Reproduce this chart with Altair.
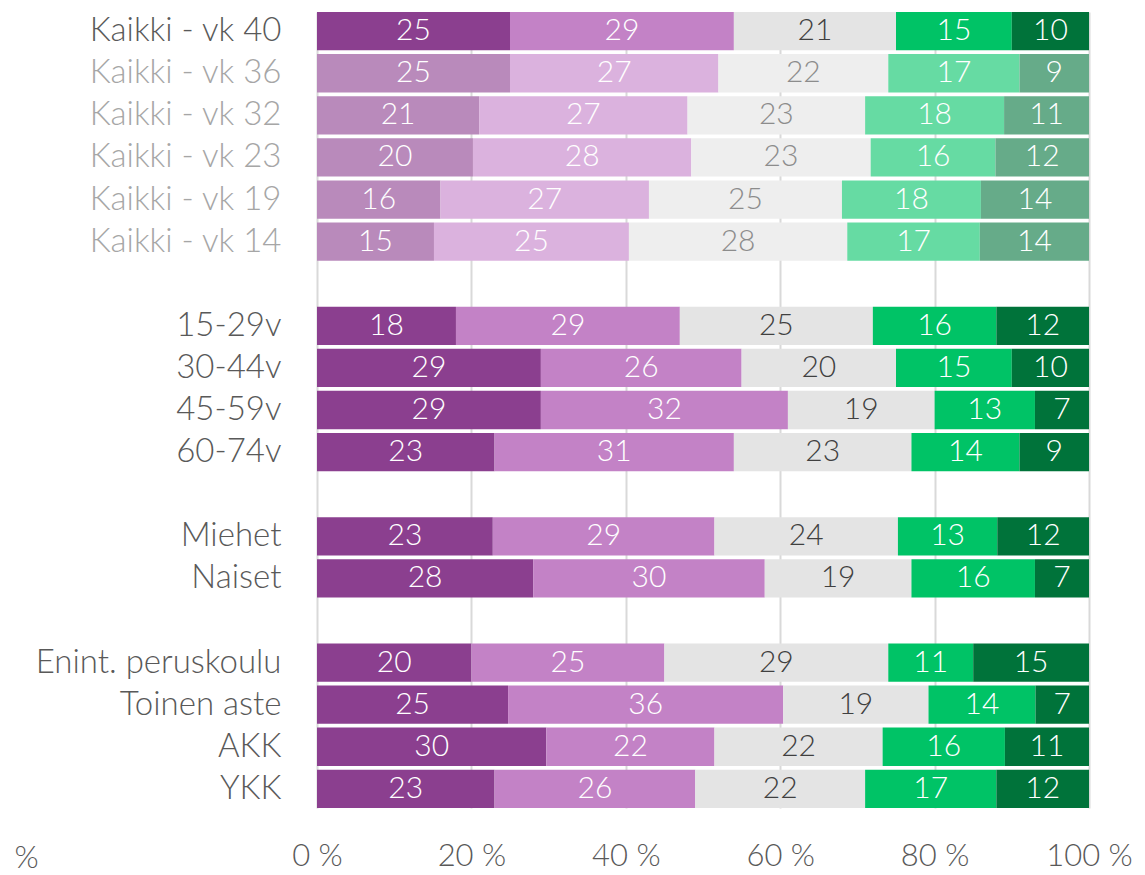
import altair as alt
import pandas as pd

# Rows (top to bottom), with blank spacer rows between groups
rows = [
    "Kaikki - vk 40", "Kaikki - vk 36", "Kaikki - vk 32", "Kaikki - vk 23",
    "Kaikki - vk 19", "Kaikki - vk 14",
    "15-29v", "30-44v", "45-59v", "60-74v",
    "Miehet", "Naiset",
    "Enint. peruskoulu", "Toinen aste", "AKK", "YKK",
]
y_order = (rows[0:6] + [" "] + rows[6:10] + ["  "] + rows[10:12] + ["   "] + rows[12:16])
faded_rows = ["Kaikki - vk 36", "Kaikki - vk 32", "Kaikki - vk 23", "Kaikki - vk 19", "Kaikki - vk 14"]

# Five answer categories (left to right)
cat1 = [25, 25, 21, 20, 16, 15, 18, 29, 29, 23, 23, 28, 20, 25, 30, 23]
cat2 = [29, 27, 27, 28, 27, 25, 29, 26, 32, 31, 29, 30, 25, 36, 22, 26]
cat3 = [21, 22, 23, 23, 25, 28, 25, 20, 19, 23, 24, 19, 29, 19, 22, 22]
cat4 = [15, 17, 18, 16, 18, 17, 16, 15, 13, 14, 13, 16, 11, 14, 16, 17]
cat5 = [10, 9, 11, 12, 14, 14, 12, 10, 7, 9, 12, 7, 15, 7, 11, 12]
series = [cat1, cat2, cat3, cat4, cat5]

x_ticks = [0, 20, 40, 60, 80, 100]

records = []
for i, r in enumerate(rows):
    for k, s in enumerate(series):
        records.append({"row": r, "idx": k + 1, "value": s[i],
                        "faded": r in faded_rows})
df = pd.DataFrame(records)

keys = ["1", "2", "3", "4", "5", "1f", "2f", "3f", "4f", "5f"]
fills = ["#8B3F8F", "#C382C6", "#E4E4E4", "#00C366", "#00733A",
         "#B98ABB", "#DBB2DE", "#EEEEEE", "#66DBA3", "#66AB89"]

FONT = "Lato"
WEIGHT = 300

base = (
    alt.Chart(df)
    .transform_joinaggregate(total="sum(value)", groupby=["row"])
    .transform_calculate(pct="datum.value / datum.total * 100")
    .transform_stack(stack="pct", as_=["x0", "x1"], groupby=["row"],
                     sort=[alt.SortField("idx", order="ascending")])
    .transform_calculate(
        mid="(datum.x0 + datum.x1) / 2",
        key="datum.idx + (datum.faded ? 'f' : '')",
        tcol="datum.idx == 3 ? (datum.faded ? '#8C8C8C' : '#404040') : '#FFFFFF'",
    )
)

faded_js = "[" + ",".join("'" + r + "'" for r in faded_rows) + "]"

y_enc = alt.Y(
    "row:N",
    sort=y_order,
    scale=alt.Scale(domain=y_order, paddingInner=0.09, paddingOuter=0),
    axis=alt.Axis(
        title=None, domain=False, ticks=False, grid=False,
        labelFont=FONT, labelFontSize=33, labelFontWeight=WEIGHT,
        labelPadding=36, labelLimit=400,
        labelColor={"expr": f"indexof({faded_js}, datum.value) >= 0 ? '#A6A6A6' : '#595959'"},
    ),
)

bars = base.mark_bar().encode(
    y=y_enc,
    x=alt.X(
        "x0:Q",
        scale=alt.Scale(domain=[0, 100], nice=False),
        axis=alt.Axis(
            values=x_ticks, domain=False, ticks=False, grid=True,
            gridColor="#D9D9D9", gridWidth=2,
            labelExpr="datum.value + ' %'", labelFlush=False,
            labelFont=FONT, labelFontSize=31, labelFontWeight=WEIGHT,
            labelColor="#595959", labelPadding=33,
            title="%", titleFont=FONT, titleFontSize=31, titleFontWeight=WEIGHT,
            titleColor="#595959", titleX=-291, titleY=50,
            titleAlign="center", titleBaseline="middle",
        ),
    ),
    x2="x1:Q",
    color=alt.Color("key:N", scale=alt.Scale(domain=keys, range=fills), legend=None),
)

labels = base.mark_text(font=FONT, fontSize=30, fontWeight=WEIGHT,
                        baseline="middle", align="center").encode(
    y=alt.Y("row:N", sort=y_order),
    x=alt.X("mid:Q"),
    text=alt.Text("value:Q"),
    color=alt.Color("tcol:N", scale=None),
)

chart = (
    alt.layer(bars, labels)
    .properties(
        width=772, height=796,
        autosize=alt.AutoSizeParams(type="none"),
        padding={"left": 309, "top": 4, "right": 46, "bottom": 66},
        background="white",
    )
    .configure_view(stroke=None)
)

chart.save("out.html", embed_options={"renderer": "svg", "actions": False})
